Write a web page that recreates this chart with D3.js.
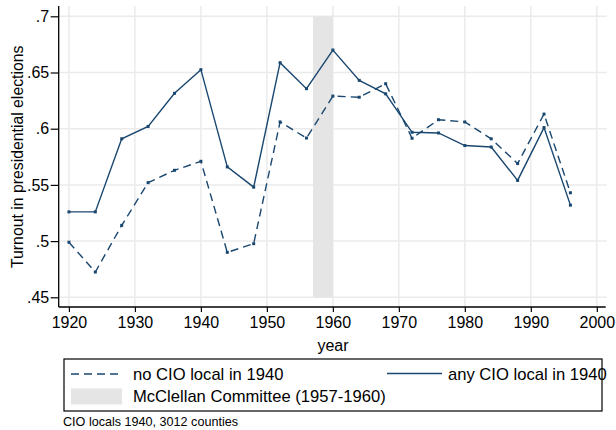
<!DOCTYPE html>
<html>
<head>
<meta charset="utf-8">
<script src="https://cdn.jsdelivr.net/npm/d3@7"></script>
<style>
  body { margin: 0; background: #fff; }
  svg text { font-family: "Liberation Sans", Arial, sans-serif; }
</style>
</head>
<body>
<div id="chart"></div>
<script>
const years = [1920, 1924, 1928, 1932, 1936, 1940, 1944, 1948, 1952, 1956, 1960,
  1964, 1968, 1972, 1976, 1980, 1984, 1988, 1992, 1996];
const noCio = [0.499, 0.4725, 0.514, 0.552, 0.563, 0.571, 0.490, 0.4977, 0.606, 0.5917, 0.629,
  0.628, 0.640, 0.5915, 0.608, 0.606, 0.591, 0.569, 0.613, 0.543];
const anyCio = [0.526, 0.526, 0.591, 0.602, 0.6315, 0.6525, 0.566, 0.548, 0.6587, 0.6356, 0.670,
  0.643, 0.631, 0.5968, 0.5962, 0.585, 0.5837, 0.554, 0.601, 0.532];
const xTicks = [1920, 1930, 1940, 1950, 1960, 1970, 1980, 1990, 2000];
const yTicks = [0.45, 0.5, 0.55, 0.6, 0.65, 0.7];
const shade = [1957, 1960];

const W = 616, H = 430;
const navy = "#1a476f";
const grid = "#ebebeb";
const fs = "16px";

const svg = d3.select("#chart").append("svg")
  .attr("width", W).attr("height", H);

const x = d3.scaleLinear().domain([1918.45, 2001.5]).range([58.7, 606.7]);
const y = d3.scaleLinear().domain([0.45, 0.7]).range([297.3, 16.3]);
const yTop = 6, yBot = 307;

// grid
svg.append("g").selectAll("line").data(yTicks).join("line")
  .attr("x1", x.range()[0]).attr("x2", x.range()[1])
  .attr("y1", d => y(d)).attr("y2", d => y(d))
  .attr("stroke", grid).attr("stroke-width", 1.5);
svg.append("g").selectAll("line").data(xTicks).join("line")
  .attr("x1", d => x(d)).attr("x2", d => x(d))
  .attr("y1", yTop).attr("y2", yBot)
  .attr("stroke", grid).attr("stroke-width", 1.5);

// McClellan shade
svg.append("rect")
  .attr("x", x(shade[0])).attr("width", x(shade[1]) - x(shade[0]))
  .attr("y", y(0.7)).attr("height", y(0.45) - y(0.7))
  .attr("fill", "#e5e5e5");

// axes
const xAxis = svg.append("g")
  .attr("transform", "translate(0," + yBot + ")")
  .call(d3.axisBottom(x).tickValues(xTicks).tickFormat(d3.format("d")).tickSize(5).tickPadding(5).tickSizeOuter(0));
const yAxis = svg.append("g")
  .attr("transform", "translate(" + x.range()[0] + ",0)")
  .call(d3.axisLeft(y).tickValues(yTicks).tickFormat(d => d3.format(".2")(d).replace(/^0/, "")).tickSize(8).tickPadding(1.5).tickSizeOuter(0));
[xAxis, yAxis].forEach(a => {
  a.select(".domain").attr("stroke", "#000").attr("stroke-width", 1.3);
  a.selectAll(".tick line").attr("stroke", "#000").attr("stroke-width", 1.2);
  a.selectAll("text").attr("fill", "#000").style("font-size", fs).style("font-family", "Liberation Sans, Arial, sans-serif");
});
yAxis.select(".domain").attr("d", "M0," + yTop + "V" + yBot);
xAxis.select(".domain").attr("d", "M" + x.range()[0] + ",0H" + (x.range()[1] - 1));

// axis titles
svg.append("text")
  .attr("x", 333).attr("y", 351)
  .attr("text-anchor", "middle").style("font-size", fs)
  .text("year");
svg.append("text")
  .attr("transform", "translate(22.5," + (y(0.575)) + ") rotate(-90)")
  .attr("text-anchor", "middle").style("font-size", "15.8px")
  .text("Turnout in presidential elections");

// lines
const line = d3.line().x(d => x(d[0])).y(d => y(d[1]));
const series = [
  { vals: noCio, dash: "8,5" },
  { vals: anyCio, dash: null }
];
series.forEach(s => {
  const pts = years.map((yr, i) => [yr, s.vals[i]]);
  svg.append("path").datum(pts)
    .attr("fill", "none").attr("stroke", navy).attr("stroke-width", 1.4)
    .attr("stroke-dasharray", s.dash)
    .attr("d", line);
  svg.append("g").selectAll("rect").data(pts).join("rect")
    .attr("x", d => x(d[0]) - 1.5).attr("y", d => y(d[1]) - 1.5)
    .attr("width", 3).attr("height", 3).attr("fill", navy);
});

// legend
const lg = svg.append("g");
lg.append("rect").attr("x", 64).attr("y", 359).attr("width", 538).attr("height", 52)
  .attr("fill", "#fff").attr("stroke", "#000").attr("stroke-width", 1.2);
lg.append("line").attr("x1", 71).attr("x2", 122).attr("y1", 374).attr("y2", 374)
  .attr("stroke", navy).attr("stroke-width", 1.4).attr("stroke-dasharray", "8,5");
lg.append("text").attr("x", 133).attr("y", 380).style("font-size", "16.6px")
  .text("no CIO local in 1940");
lg.append("line").attr("x1", 387).attr("x2", 442).attr("y1", 373.5).attr("y2", 373.5)
  .attr("stroke", navy).attr("stroke-width", 1.4);
lg.append("text").attr("x", 448).attr("y", 380).style("font-size", "16.6px")
  .text("any CIO local in 1940");
lg.append("rect").attr("x", 71).attr("y", 388.5).attr("width", 51).attr("height", 16)
  .attr("fill", "#e5e5e5");
lg.append("text").attr("x", 133).attr("y", 401.7).style("font-size", "16.6px")
  .text("McClellan Committee (1957-1960)");

svg.append("text").attr("x", 63).attr("y", 425.5).style("font-size", "12.6px")
  .text("CIO locals 1940, 3012 counties");
</script>
</body>
</html>
